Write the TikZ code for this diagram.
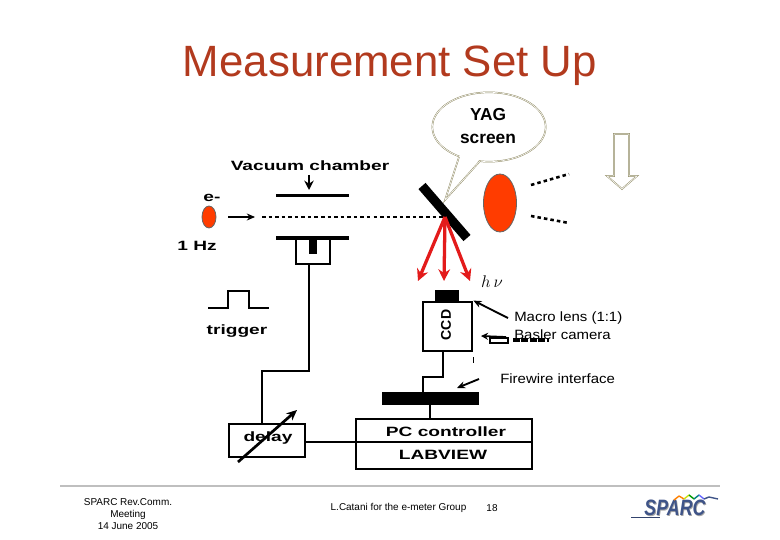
\documentclass[tikz,border=0pt]{standalone}
\usepackage{fontspec}
\setmainfont{Liberation Sans}
\usetikzlibrary{arrows.meta,shapes.geometric}
\definecolor{titlered}{HTML}{B23A1E}
\definecolor{beamred}{HTML}{FF3C00}
\definecolor{rayred}{HTML}{E31B1B}
\definecolor{balloonline}{HTML}{8F8A62}
\definecolor{sparcblue}{HTML}{3F5488}
\tikzset{
  wire/.style={line width=2.4pt},
  boxwire/.style={draw,line width=2.4pt,inner sep=0pt},
  bigtext/.style={font=\bfseries\fontsize{11.5}{14}\selectfont,xscale=1.42,inner sep=0pt},
  labeltext/.style={font=\fontsize{11.5}{14}\selectfont,xscale=1.11,inner sep=0pt},
  foottext/.style={font=\fontsize{8.5}{10}\selectfont,inner sep=0pt,align=center},
  ray/.style={line width=2.8pt,rayred,-{Stealth[length=10pt,width=10pt]}},
  thinarrow/.style={line width=1.6pt,-{Stealth[length=7pt,width=6pt]}},
  blob/.style={ellipse,draw=black!60,fill=beamred,line width=0.7pt,inner sep=0pt},
  dotline/.style={line width=2.2pt,dash pattern=on 3pt off 2.6pt},
  logotext/.style={font=\bfseries\itshape\fontsize{19}{21}\selectfont,xscale=0.8,inner sep=0pt},
}
\begin{document}
\begin{tikzpicture}[x=0.03cm,y=-0.03cm]
  \useasboundingbox (0,0) rectangle (780,540);
  \node[font=\fontsize{37.4}{42}\selectfont,text=titlered,inner sep=0pt] (title) at (390,66) {Measurement Set Up};
  % balloon
  \node[ellipse,draw=balloonline,double=white,double distance=0.5pt,fill=white,minimum width=3.4cm,minimum height=2.08cm,inner sep=0pt] (balloon) at (489,127) {};
  \coordinate (tailtip) at (445,200);
  \fill[white] (460,155) -- (tailtip) -- (480,159) -- cycle;
  \draw[balloonline,double=white,double distance=0.5pt] (459,157) -- (tailtip) -- (480,161);
  \node[font=\bfseries\fontsize{14.8}{19.5}\selectfont,align=center,inner sep=0pt] (yag) at (488,126) {YAG\\screen};
  % beam side
  \node[blob,minimum width=0.42cm,minimum height=0.66cm] (bunch) at (209,217) {};
  \node[bigtext] (eminus) at (212,198) {e-};
  \node[bigtext] (rate) at (197,246) {1 Hz};
  \node[bigtext] (vacuum) at (310,166) {Vacuum chamber};
  \coordinate (beamstart) at (228,217);
  \coordinate (beamgap) at (255,217);
  \coordinate (beamdots) at (262,217);
  \coordinate (mirrorhit) at (445,217);
  \coordinate (uppertop) at (309,175);
  \coordinate (upperplate) at (309,190);
  \draw[line width=0.9pt,-{Stealth[length=7pt,width=6pt]}] (beamstart) -- (beamgap);
  \draw[dotline] (beamdots) -- (mirrorhit);
  \draw[line width=1.6pt,-{Stealth[length=8pt,width=8pt]}] (uppertop) -- (upperplate);
  \draw[line width=1.8pt] (276,195.5) -- (349,195.5);
  \draw[line width=2.8pt] (276,238) -- (349,238);
  \draw[wire] (296,238) -- (296,264) -- (330,264) -- (330,238);
  \fill (309,238) rectangle (317,254);
  % screen and camera side
  \draw[line width=8pt] (422,186) -- (467,238);
  \node[blob,minimum width=0.99cm,minimum height=1.74cm] (screenspot) at (500,203) {};
  \draw[dotline] (531,185) -- (569,174);
  \draw[dotline] (531,216) -- (569,223);
  \draw[balloonline,double=white,double distance=0.5pt,fill=white] (614,134) -- (629,134) -- (629,176) -- (637,176) -- (622,189) -- (607,176) -- (614,176) -- cycle;
  \coordinate (rayleft) at (418,281);
  \coordinate (raymid) at (444,281);
  \coordinate (rayright) at (470,281);
  \draw[ray] (mirrorhit) -- (rayleft);
  \draw[ray] (mirrorhit) -- (raymid);
  \draw[ray] (mirrorhit) -- (rayright);
  \node[inner sep=0pt,font=\fontsize{14}{16}\selectfont] (hnu) at (492,282) {$h\,\nu$};
  \node[boxwire,minimum width=1.47cm,minimum height=1.47cm] (camera) at (447.5,326.5) {};
  \node[fill=black,minimum width=0.72cm,minimum height=0.36cm,inner sep=0pt] (lens) at (447,296) {};
  \node[font=\bfseries\fontsize{12}{14}\selectfont,rotate=90,inner sep=0pt] (ccd) at (446,325) {CCD};
  \fill (473,357) rectangle (474,363);
  \node[labeltext,anchor=west] (macro) at (514,318) {Macro lens (1:1)};
  \draw[thinarrow] (macro.west) ++(-6,0) coordinate (macrotail) -- (camera.north east);
  \draw[line width=1.5pt,-{Stealth[length=6pt,width=6pt]}] (506,337) -- (481,336);
  \draw[line width=1.5pt] (490,338) rectangle (508,343);
  \draw[line width=4pt,dash pattern=on 6pt off 1.2pt] (513,340) -- (549,340);
  \node[labeltext,anchor=west] (basler) at (514,335) {Basler camera};
  \node[labeltext,anchor=west] (firewire) at (500,379) {Firewire interface};
  \node[fill=black,minimum width=2.91cm,minimum height=0.39cm,inner sep=0pt] (hub) at (430.5,398.5) {};
  \coordinate (firetail) at (479,379);
  \coordinate (firetip) at (457,388);
  \draw[thinarrow] (firetail) -- (firetip);
  \draw[wire] (443,351) -- (443,377) -- (423,377) -- (423,392);
  % lower part
  \draw[wire] (208,308) -- (228,308) -- (228,291) -- (249,291) -- (249,308) -- (269,308);
  \node[bigtext] (trigger) at (237,331) {trigger};
  \node[boxwire,minimum width=2.28cm,minimum height=0.99cm] (delaybox) at (267,440.5) {};
  \node[bigtext] (delay) at (268,438) {delay};
  \coordinate (knobstart) at (238,462);
  \coordinate (knobend) at (297,410);
  \draw[line width=2.3pt,-{Stealth[length=9pt,width=8pt]}] (knobstart) -- (knobend);
  \node[boxwire,minimum width=5.28cm,minimum height=1.5cm] (pcbox) at (444,444) {};
  \node[bigtext] (pctext) at (446,432) {PC controller};
  \node[bigtext] (labview) at (443,455) {LABVIEW};
  \draw[wire] (309,264) -- (309,371) -- (262,371) -- (262,424);
  \draw[wire] (delaybox.east |- 0,442) -- (pcbox.east |- 0,442);
  \draw[wire] (430,405) -- (430,419);
  % footer
  \draw[line width=1.7pt,black!25] (60,486) -- (720,486);
  \node[foottext] (meeting) at (128,514) {SPARC Rev.Comm.\\Meeting\\14 June 2005};
  \node[foottext] (author) at (398.5,508) {L.Catani for the e-meter Group};
  \node[foottext] (page) at (492,508) {18};
  % logo
  \node[logotext,text=black!35] at (675.8,508.6) {SPARC};
  \node[logotext,text=sparcblue] (sparc) at (675,508) {SPARC};
  \draw[line width=1.3pt,sparcblue!80!black] (631,517.5) -- (660,517.5);
  \foreach \xa/\ya/\xb/\yb/\wavecol in {674/500/679/496/orange,679/496/684/499/orange,684/499/689/495/yellow!80!green,689/495/694/499/green!60!black,694/499/699/495/teal,699/495/704/499/blue!60,704/499/709/497/sparcblue,709/497/718/499/sparcblue}
    \draw[line width=1.2pt,\wavecol] (\xa,\ya) -- (\xb,\yb);
\end{tikzpicture}
\end{document}
